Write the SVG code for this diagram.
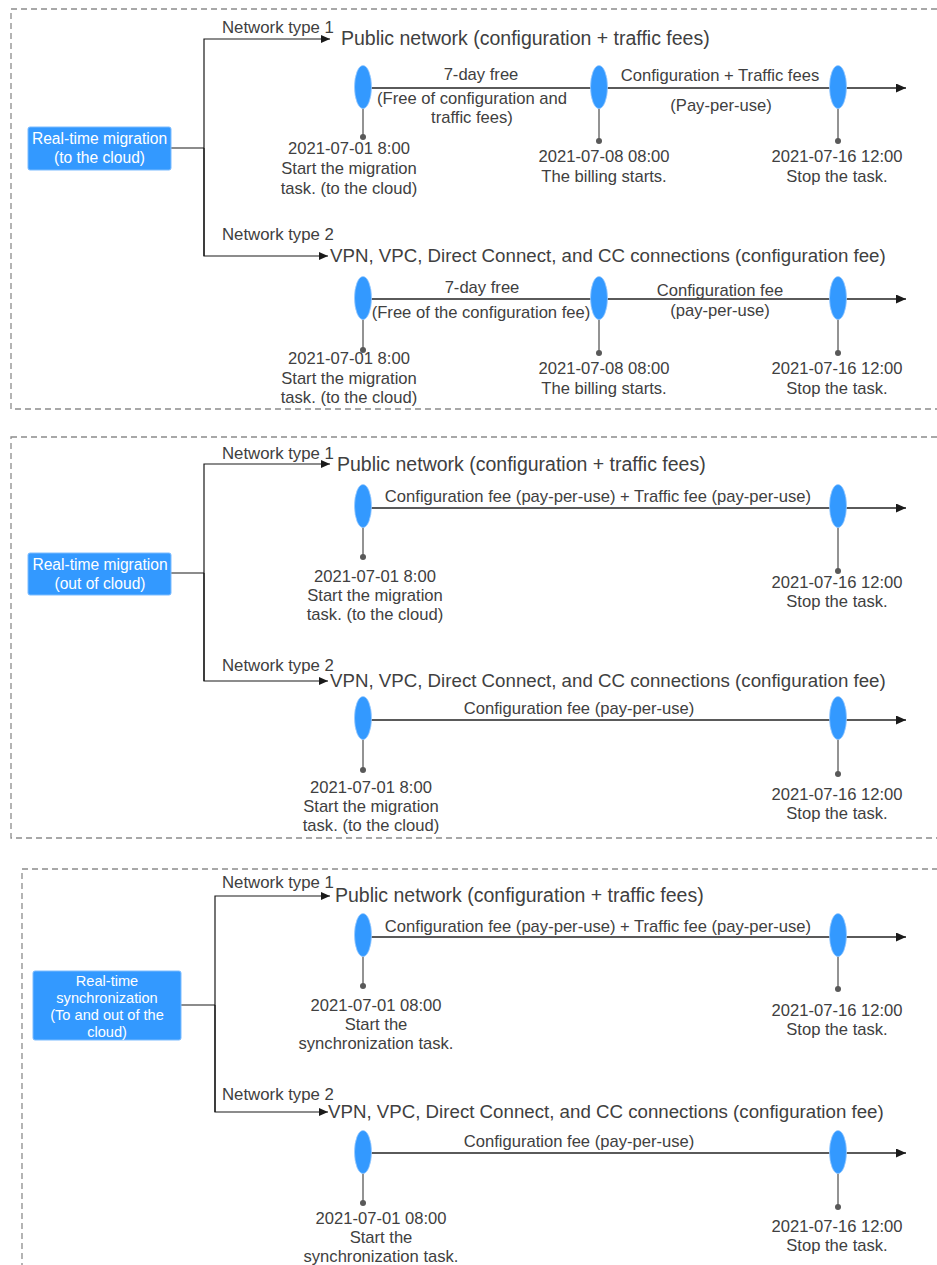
<svg xmlns="http://www.w3.org/2000/svg" width="937" height="1265" viewBox="0 0 937 1265">
<style>
.bg{fill:#ffffff}
.panel{fill:none;stroke:#8c8c8c;stroke-width:1.3;stroke-dasharray:6 4}
.box{fill:#3399ff;stroke:#7dbcff;stroke-width:1}
.bt{font-family:"Liberation Sans",Arial,sans-serif;font-size:15.6px;fill:#ffffff;text-anchor:middle}
.bt3{font-size:14.6px}
.t{font-family:"Liberation Sans",Arial,sans-serif;fill:#404040}
.nt{font-size:16.8px}
.hd{font-size:19.5px}
.hd2{font-size:18.7px}
.lb{font-size:16.6px;text-anchor:middle}
.conn{fill:none;stroke:#1a1a1a;stroke-width:1.2}
.tl{fill:none;stroke:#5a5a5a;stroke-width:2}
.stem{stroke:#595959;stroke-width:1.3}
.dot{fill:#595959}
.ev{fill:#3399ff;stroke:#9ccbff;stroke-width:0.8}
</style>
<defs>
<marker id="ah" markerUnits="userSpaceOnUse" markerWidth="10" markerHeight="8" refX="9" refY="4" orient="auto"><path d="M0,0 L9,4 L0,8 z" fill="#1a1a1a"/></marker>
<marker id="ah2" markerUnits="userSpaceOnUse" markerWidth="11" markerHeight="9" refX="10" refY="4.5" orient="auto"><path d="M0,0 L10,4.5 L0,9 z" fill="#1a1a1a"/></marker>
</defs>
<rect class="bg" x="0" y="0" width="937" height="1265"/>

<!-- panels -->
<rect class="panel" x="11" y="9" width="940" height="400"/>
<rect class="panel" x="11" y="437" width="940" height="401"/>
<rect class="panel" x="22" y="869" width="930" height="420"/>

<!-- connectors -->
<g id="connectors">
  <polyline class="conn" points="171,148 204,148"/>
  <polyline class="conn" points="204,256 204,39 330,39" marker-end="url(#ah)"/>
  <polyline class="conn" points="204,148 204,256 328,256" marker-end="url(#ah)"/>
  <line class="tl" x1="363" y1="88" x2="906" y2="88" marker-end="url(#ah2)"/>
  <line class="tl" x1="363" y1="299" x2="906" y2="299" marker-end="url(#ah2)"/>
  <polyline class="conn" points="171,573 204,573"/>
  <polyline class="conn" points="204,681 204,464 330,464" marker-end="url(#ah)"/>
  <polyline class="conn" points="204,573 204,681 328,681" marker-end="url(#ah)"/>
  <line class="tl" x1="363" y1="508" x2="906" y2="508" marker-end="url(#ah2)"/>
  <line class="tl" x1="363" y1="720" x2="906" y2="720" marker-end="url(#ah2)"/>
  <polyline class="conn" points="181,1005 215,1005"/>
  <polyline class="conn" points="215,1112 215,896 330,896" marker-end="url(#ah)"/>
  <polyline class="conn" points="215,1005 215,1112 328,1112" marker-end="url(#ah)"/>
  <line class="tl" x1="363" y1="937" x2="906" y2="937" marker-end="url(#ah2)"/>
  <line class="tl" x1="363" y1="1153" x2="906" y2="1153" marker-end="url(#ah2)"/>
  <line class="stem" x1="363" y1="108" x2="363" y2="137"/><circle class="dot" cx="363" cy="137" r="3"/>
  <line class="stem" x1="599" y1="108" x2="599" y2="141"/><circle class="dot" cx="599" cy="141" r="3"/>
  <line class="stem" x1="838" y1="108" x2="838" y2="141"/><circle class="dot" cx="838" cy="141" r="3"/>
  <line class="stem" x1="363" y1="319" x2="363" y2="350"/><circle class="dot" cx="363" cy="350" r="3"/>
  <line class="stem" x1="599" y1="319" x2="599" y2="353"/><circle class="dot" cx="599" cy="353" r="3"/>
  <line class="stem" x1="838" y1="319" x2="838" y2="353"/><circle class="dot" cx="838" cy="353" r="3"/>
  <line class="stem" x1="363" y1="527" x2="363" y2="557"/><circle class="dot" cx="363" cy="557" r="3"/>
  <line class="stem" x1="838" y1="527" x2="838" y2="571"/><circle class="dot" cx="838" cy="571" r="3"/>
  <line class="stem" x1="363" y1="739" x2="363" y2="770"/><circle class="dot" cx="363" cy="770" r="3"/>
  <line class="stem" x1="838" y1="739" x2="838" y2="774"/><circle class="dot" cx="838" cy="774" r="3"/>
  <line class="stem" x1="363" y1="956" x2="363" y2="986"/><circle class="dot" cx="363" cy="986" r="3"/>
  <line class="stem" x1="838" y1="956" x2="838" y2="989"/><circle class="dot" cx="838" cy="989" r="3"/>
  <line class="stem" x1="363" y1="1173" x2="363" y2="1203"/><circle class="dot" cx="363" cy="1203" r="3"/>
  <line class="stem" x1="838" y1="1173" x2="838" y2="1207"/><circle class="dot" cx="838" cy="1207" r="3"/>
</g>

<!-- Panel 1 -->
<g id="p1-source">
  <rect class="box" x="28" y="127" width="143" height="43" rx="2"/>
  <text class="bt" x="99.5" y="144">Real-time migration<tspan x="99.5" dy="19">(to the cloud)</tspan></text>
</g>
<g id="p1-net1">
  <text class="t nt" x="222" y="33">Network type 1</text>
  <text class="t hd" x="341" y="45">Public network (configuration + traffic fees)</text>
</g>
<g id="p1-t1-e1">
  <ellipse class="ev" cx="363" cy="87" rx="8.5" ry="21.5"/>
  <text class="t lb" x="349" y="154">2021-07-01 8:00<tspan x="349" dy="20">Start the migration</tspan><tspan x="349" dy="19.5">task. (to the cloud)</tspan></text>
</g>
<g id="p1-t1-seg1">
  <text class="t lb" x="481" y="80">7-day free</text>
  <text class="t lb" x="472" y="104">(Free of configuration and<tspan x="472" dy="19">traffic fees)</tspan></text>
</g>
<g id="p1-t1-e2">
  <ellipse class="ev" cx="599" cy="87" rx="8.5" ry="21.5"/>
  <text class="t lb" x="604" y="162">2021-07-08 08:00<tspan x="604" dy="20">The billing starts.</tspan></text>
</g>
<g id="p1-t1-seg2">
  <text class="t lb" x="720" y="81">Configuration + Traffic fees</text>
  <text class="t lb" x="721" y="111">(Pay-per-use)</text>
</g>
<g id="p1-t1-e3">
  <ellipse class="ev" cx="838" cy="87" rx="8.5" ry="21.5"/>
  <text class="t lb" x="837" y="162">2021-07-16 12:00<tspan x="837" dy="20">Stop the task.</tspan></text>
</g>
<g id="p1-net2">
  <text class="t nt" x="222" y="240">Network type 2</text>
  <text class="t hd2" x="330" y="262">VPN, VPC, Direct Connect, and CC connections (configuration fee)</text>
</g>
<g id="p1-t2-e1">
  <ellipse class="ev" cx="363" cy="298" rx="8.5" ry="21.5"/>
  <text class="t lb" x="349" y="364">2021-07-01 8:00<tspan x="349" dy="19.5">Start the migration</tspan><tspan x="349" dy="19.5">task. (to the cloud)</tspan></text>
</g>
<g id="p1-t2-seg1">
  <text class="t lb" x="482" y="293">7-day free</text>
  <text class="t lb" x="481" y="318">(Free of the configuration fee)</text>
</g>
<g id="p1-t2-e2">
  <ellipse class="ev" cx="599" cy="298" rx="8.5" ry="21.5"/>
  <text class="t lb" x="604" y="374">2021-07-08 08:00<tspan x="604" dy="20">The billing starts.</tspan></text>
</g>
<g id="p1-t2-seg2">
  <text class="t lb" x="720" y="296">Configuration fee<tspan x="720" dy="20">(pay-per-use)</tspan></text>
</g>
<g id="p1-t2-e3">
  <ellipse class="ev" cx="838" cy="298" rx="8.5" ry="21.5"/>
  <text class="t lb" x="837" y="374">2021-07-16 12:00<tspan x="837" dy="20">Stop the task.</tspan></text>
</g>

<!-- Panel 2 -->
<g id="p2-source">
  <rect class="box" x="28" y="553" width="143" height="42" rx="2"/>
  <text class="bt" x="100" y="570">Real-time migration<tspan x="100" dy="19">(out of cloud)</tspan></text>
</g>
<g id="p2-net1">
  <text class="t nt" x="222" y="459">Network type 1</text>
  <text class="t hd" x="337" y="471">Public network (configuration + traffic fees)</text>
</g>
<g id="p2-t1-e1">
  <ellipse class="ev" cx="363" cy="506" rx="8.5" ry="21.5"/>
  <text class="t lb" x="375" y="582">2021-07-01 8:00<tspan x="375" dy="19">Start the migration</tspan><tspan x="375" dy="19">task. (to the cloud)</tspan></text>
</g>
<g id="p2-t1-seg">
  <text class="t lb" x="598" y="502">Configuration fee (pay-per-use) + Traffic fee (pay-per-use)</text>
</g>
<g id="p2-t1-e2">
  <ellipse class="ev" cx="838" cy="506" rx="8.5" ry="21.5"/>
  <text class="t lb" x="837" y="588">2021-07-16 12:00<tspan x="837" dy="19">Stop the task.</tspan></text>
</g>
<g id="p2-net2">
  <text class="t nt" x="222" y="671">Network type 2</text>
  <text class="t hd2" x="330" y="687">VPN, VPC, Direct Connect, and CC connections (configuration fee)</text>
</g>
<g id="p2-t2-e1">
  <ellipse class="ev" cx="363" cy="718" rx="8.5" ry="21.5"/>
  <text class="t lb" x="371" y="793">2021-07-01 8:00<tspan x="371" dy="19">Start the migration</tspan><tspan x="371" dy="19">task. (to the cloud)</tspan></text>
</g>
<g id="p2-t2-seg">
  <text class="t lb" x="579" y="714">Configuration fee (pay-per-use)</text>
</g>
<g id="p2-t2-e2">
  <ellipse class="ev" cx="838" cy="718" rx="8.5" ry="21.5"/>
  <text class="t lb" x="837" y="800">2021-07-16 12:00<tspan x="837" dy="19">Stop the task.</tspan></text>
</g>

<!-- Panel 3 -->
<g id="p3-source">
  <rect class="box" x="33" y="971" width="148" height="69" rx="2"/>
  <text class="bt bt3" x="107" y="986">Real-time<tspan x="107" dy="17">synchronization</tspan><tspan x="107" dy="17">(To and out of the</tspan><tspan x="107" dy="17">cloud)</tspan></text>
</g>
<g id="p3-net1">
  <text class="t nt" x="222" y="888">Network type 1</text>
  <text class="t hd" x="335" y="902">Public network (configuration + traffic fees)</text>
</g>
<g id="p3-t1-e1">
  <ellipse class="ev" cx="363" cy="935" rx="8.5" ry="21.5"/>
  <text class="t lb" x="376" y="1011">2021-07-01 08:00<tspan x="376" dy="19">Start the</tspan><tspan x="376" dy="19">synchronization task.</tspan></text>
</g>
<g id="p3-t1-seg">
  <text class="t lb" x="598" y="932">Configuration fee (pay-per-use) + Traffic fee (pay-per-use)</text>
</g>
<g id="p3-t1-e2">
  <ellipse class="ev" cx="838" cy="935" rx="8.5" ry="21.5"/>
  <text class="t lb" x="837" y="1016">2021-07-16 12:00<tspan x="837" dy="19">Stop the task.</tspan></text>
</g>
<g id="p3-net2">
  <text class="t nt" x="222" y="1100">Network type 2</text>
  <text class="t hd2" x="328" y="1118">VPN, VPC, Direct Connect, and CC connections (configuration fee)</text>
</g>
<g id="p3-t2-e1">
  <ellipse class="ev" cx="363" cy="1152" rx="8.5" ry="21.5"/>
  <text class="t lb" x="381" y="1224">2021-07-01 08:00<tspan x="381" dy="19">Start the</tspan><tspan x="381" dy="19">synchronization task.</tspan></text>
</g>
<g id="p3-t2-seg">
  <text class="t lb" x="579" y="1147">Configuration fee (pay-per-use)</text>
</g>
<g id="p3-t2-e2">
  <ellipse class="ev" cx="838" cy="1152" rx="8.5" ry="21.5"/>
  <text class="t lb" x="837" y="1232">2021-07-16 12:00<tspan x="837" dy="19">Stop the task.</tspan></text>
</g>
</svg>
